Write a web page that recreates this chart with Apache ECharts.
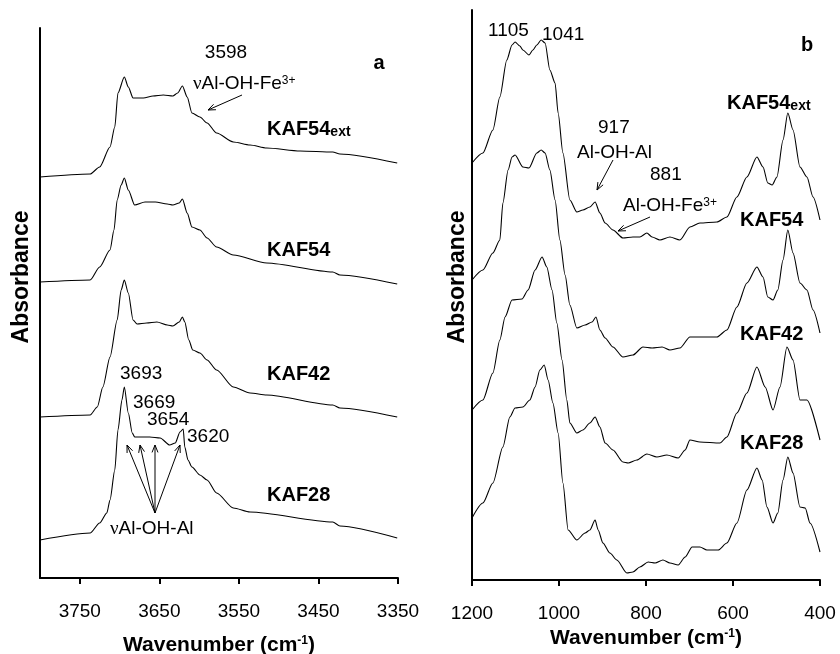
<!DOCTYPE html>
<html><head><meta charset="utf-8">
<script src="https://cdn.jsdelivr.net/npm/echarts@6/dist/echarts.min.js"></script>
<style>html,body{margin:0;padding:0;background:#fff}#c{width:840px;height:654px}</style>
</head><body><div id="c"></div>
<script>
// ---------- Panel a: OH-stretching region (wavenumber, absorbance a.u., offset-stacked) ----------
const aTicks = [3750, 3650, 3550, 3450, 3350];
const a_KAF54ext_wn  = [3800,3737,3725,3712,3706,3702,3694,3689,3683,3670,3658,3645,3633,3627,3621,3615,3609,3599,3590,3578,3557,3536,3515,3473,3432,3423,3351];
const a_KAF54ext_abs = [4.01,4.04,4.11,4.31,4.51,4.85,5.01,4.91,4.80,4.80,4.82,4.83,4.82,4.85,4.92,4.81,4.65,4.61,4.55,4.45,4.36,4.33,4.30,4.27,4.26,4.24,4.15];
const a_KAF54_wn  = [3800,3737,3725,3712,3707,3703,3698,3694,3689,3681,3668,3655,3640,3633,3625,3621,3615,3609,3599,3590,3578,3557,3515,3432,3423,3351];
const a_KAF54_abs = [2.96,2.98,3.11,3.28,3.48,3.78,3.93,4.00,3.88,3.73,3.76,3.76,3.74,3.73,3.75,3.79,3.65,3.51,3.48,3.40,3.31,3.23,3.15,3.06,3.03,2.94];
const a_KAF42_wn  = [3800,3737,3728,3721,3712,3703,3698,3694,3689,3683,3678,3666,3653,3640,3633,3625,3621,3618,3613,3608,3599,3590,3578,3557,3536,3515,3432,3423,3351];
const a_KAF42_abs = [1.61,1.63,1.71,1.91,2.21,2.58,2.88,2.98,2.85,2.58,2.54,2.55,2.56,2.53,2.52,2.56,2.61,2.56,2.38,2.28,2.25,2.18,2.08,1.91,1.85,1.83,1.73,1.70,1.61];
const a_KAF28_wn  = [3800,3737,3725,3716,3712,3706,3702,3697,3694,3689,3684,3681,3662,3649,3637,3630,3624,3620,3618,3614,3609,3599,3590,3578,3557,3536,3432,3423,3351];
const a_KAF28_abs = [0.38,0.45,0.55,0.65,0.78,1.08,1.48,1.78,1.91,1.65,1.45,1.41,1.41,1.40,1.33,1.35,1.46,1.49,1.31,1.18,1.11,1.03,0.98,0.85,0.70,0.66,0.56,0.52,0.40];

// ---------- Panel b: lattice region ----------
const bTicks = [1200, 1000, 800, 600, 400];
const b_KAF54ext_wn  = [1200,1175,1152,1136,1120,1108,1101,1090,1083,1069,1060,1051,1041,1032,1021,1009,1002,991,975,959,945,929,917,906,894,876,853,830,814,798,786,768,745,722,699,676,637,614,591,568,545,531,520,510,499,485,474,462,446,430,416,400];
const b_KAF54ext_abs = [4.17,4.27,4.50,4.83,5.20,5.35,5.38,5.34,5.30,5.25,5.30,5.35,5.40,5.37,5.10,4.97,4.67,4.27,3.80,3.68,3.70,3.73,3.78,3.67,3.57,3.50,3.42,3.43,3.43,3.47,3.43,3.40,3.43,3.40,3.53,3.57,3.58,3.63,3.83,4.03,4.23,4.13,3.97,3.95,4.03,4.40,4.67,4.50,4.13,4.03,3.83,3.60];
const b_KAF54_wn  = [1200,1175,1152,1136,1129,1117,1108,1101,1083,1069,1051,1041,1032,1021,1009,998,986,975,959,940,924,915,906,894,876,853,830,807,786,763,745,722,699,669,637,614,591,568,545,531,520,508,497,485,474,462,446,430,416,400];
const b_KAF54_abs = [3.00,3.10,3.27,3.40,3.77,4.10,4.23,4.25,4.13,4.12,4.27,4.30,4.27,4.10,3.80,3.40,3.05,2.75,2.52,2.55,2.58,2.63,2.50,2.42,2.33,2.23,2.25,2.33,2.32,2.33,2.30,2.32,2.43,2.43,2.43,2.50,2.73,2.97,3.13,3.03,2.83,2.80,2.90,3.20,3.50,3.27,2.97,2.90,2.70,2.47];
const b_KAF42_wn  = [1200,1175,1152,1136,1124,1108,1085,1071,1055,1039,1028,1016,1005,993,982,975,959,945,929,917,906,894,876,853,841,821,798,775,752,726,710,699,676,630,614,591,568,545,526,508,492,476,462,446,430,400];
const b_KAF42_abs = [1.70,1.80,2.07,2.40,2.63,2.80,2.81,2.90,3.10,3.23,3.13,2.90,2.57,2.20,1.80,1.57,1.47,1.50,1.57,1.63,1.53,1.37,1.30,1.18,1.17,1.20,1.26,1.23,1.25,1.22,1.30,1.40,1.38,1.37,1.43,1.67,1.87,2.13,1.93,1.70,1.93,2.33,2.20,1.80,1.80,1.40];
const b_KAF28_wn  = [1200,1175,1152,1129,1113,1101,1083,1067,1055,1044,1034,1025,1014,1002,991,979,959,940,929,917,910,899,883,867,844,830,814,795,779,761,745,726,710,694,676,660,634,614,591,568,545,533,522,508,497,485,474,462,446,434,423,400];
const b_KAF28_abs = [0.62,0.77,0.97,1.33,1.63,1.72,1.73,1.80,1.93,2.10,2.15,2.00,1.77,1.47,0.97,0.50,0.40,0.47,0.50,0.60,0.50,0.37,0.27,0.20,0.07,0.08,0.13,0.18,0.17,0.20,0.17,0.15,0.23,0.33,0.33,0.30,0.30,0.37,0.57,0.90,1.12,1.00,0.73,0.57,0.67,1.00,1.23,1.07,0.73,0.72,0.57,0.28];

const pairs = (xs, ys) => xs.map((x, i) => [x, ys[i]]);
const FONT = 'Liberation Sans, Arial, sans-serif';

const panelA = [
  ['KAF54ext', a_KAF54ext_wn, a_KAF54ext_abs],
  ['KAF54', a_KAF54_wn, a_KAF54_abs],
  ['KAF42', a_KAF42_wn, a_KAF42_abs],
  ['KAF28', a_KAF28_wn, a_KAF28_abs]
];
const panelB = [
  ['KAF54ext', b_KAF54ext_wn, b_KAF54ext_abs],
  ['KAF54', b_KAF54_wn, b_KAF54_abs],
  ['KAF42', b_KAF42_wn, b_KAF42_abs],
  ['KAF28', b_KAF28_wn, b_KAF28_abs]
];

function mkSeries(list, idx) {
  return list.map(([name, xs, ys]) => ({
    name: name + (idx ? ' b' : ' a'), type: 'line', xAxisIndex: idx, yAxisIndex: idx,
    data: pairs(xs, ys), showSymbol: false, symbol: 'none', smooth: 0.25, smoothMonotone: 'x',
    lineStyle: { color: '#000', width: 1.1 }, silent: true
  }));
}

const axisName = {
  fontSize: 21, fontWeight: 'bold', fontFamily: FONT, color: '#000',
  rich: { s: { fontSize: 12, fontWeight: 'bold', fontFamily: FONT, color: '#000', verticalAlign: 'top', lineHeight: 14 } }
};
function xAxisCfg(idx, min, max, ticks, gap) {
  return {
    gridIndex: idx, type: 'value', min: min, max: max, inverse: true,
    name: 'Wavenumber (cm{s|-1})', nameLocation: 'middle', nameGap: gap, nameTextStyle: axisName,
    axisLine: { show: true, onZero: false, lineStyle: { color: '#000', width: 2 } },
    axisTick: { show: true, customValues: ticks, length: 6, inside: false, lineStyle: { color: '#000', width: 2 } },
    axisLabel: { show: true, customValues: ticks, margin: 24, color: '#000', fontSize: 19, fontFamily: FONT,
      formatter: v => String(v) },
    splitLine: { show: false }
  };
}
function yAxisCfg(idx, max) {
  return {
    gridIndex: idx, type: 'value', min: 0, max: max,
    axisLine: { show: true, onZero: false, lineStyle: { color: '#000', width: 2 } },
    axisTick: { show: false }, axisLabel: { show: false }, splitLine: { show: false }
  };
}

function txt(x, y, text, opts) {
  opts = opts || {};
  return {
    type: 'text', x: x, y: y, rotation: opts.rot || 0, silent: true,
    style: Object.assign({
      text: text, fill: '#000', fontSize: opts.size || 19, fontWeight: opts.bold ? 'bold' : 'normal',
      fontFamily: FONT, align: opts.align || 'left', textAlign: opts.align || 'left',
      verticalAlign: 'middle', textVerticalAlign: 'middle'
    }, opts.rich ? { rich: opts.rich } : {})
  };
}
function arrow(x1, y1, x2, y2) {
  const a = Math.atan2(y2 - y1, x2 - x1), L = 8, w = 0.38;
  return [
    { type: 'line', silent: true, shape: { x1, y1, x2, y2 }, style: { stroke: '#000', lineWidth: 1 } },
    { type: 'polyline', silent: true, shape: { points: [[x2 - L * Math.cos(a - w), y2 - L * Math.sin(a - w)], [x2, y2], [x2 - L * Math.cos(a + w), y2 - L * Math.sin(a + w)]] },
      style: { stroke: '#000', lineWidth: 1, fill: null } }
  ];
}

const richAnno = {
  nu: { fontSize: 19, fontFamily: 'Liberation Serif, DejaVu Serif, serif', color: '#000' },
  t: { fontSize: 19, fontFamily: FONT, color: '#000' },
  sup: { fontSize: 12, fontFamily: FONT, color: '#000', verticalAlign: 'top', lineHeight: 12 }
};
const richLabel = {
  k: { fontSize: 20, fontWeight: 'bold', fontFamily: FONT, color: '#000' },
  sub: { fontSize: 14, fontWeight: 'bold', fontFamily: FONT, color: '#000', verticalAlign: 'bottom', lineHeight: 14 }
};

const graphics = [].concat(
  [
    txt(22, 277, 'Absorbance', { bold: true, size: 23, align: 'center', rot: Math.PI / 2 }),
    txt(458, 277, 'Absorbance', { bold: true, size: 23, align: 'center', rot: Math.PI / 2 }),
    // panel a
    txt(226, 53, '3598', { align: 'center' }),
    txt(193, 84, '{nu|ν}{t|Al-OH-Fe}{sup|3+}', { rich: richAnno }),
    txt(379, 63, 'a', { bold: true, size: 20, align: 'center' }),
    txt(267, 129, '{k|KAF54}{sub|ext}', { rich: richLabel }),
    txt(267, 250, 'KAF54', { bold: true, size: 20 }),
    txt(267, 374, 'KAF42', { bold: true, size: 20 }),
    txt(267, 495, 'KAF28', { bold: true, size: 20 }),
    txt(120, 374, '3693'),
    txt(133, 403, '3669'),
    txt(147, 420, '3654'),
    txt(187, 437, '3620'),
    txt(110, 529, '{nu|ν}{t|Al-OH-Al}', { rich: richAnno }),
    // panel b
    txt(488, 31, '1105'),
    txt(542, 35, '1041'),
    txt(807, 45, 'b', { bold: true, size: 20, align: 'center' }),
    txt(727, 103, '{k|KAF54}{sub|ext}', { rich: richLabel }),
    txt(598, 128, '917'),
    txt(577, 153, 'Al-OH-Al'),
    txt(650, 175, '881'),
    txt(623, 206, '{t|Al-OH-Fe}{sup|3+}', { rich: richAnno }),
    txt(740, 220, 'KAF54', { bold: true, size: 20 }),
    txt(740, 334, 'KAF42', { bold: true, size: 20 }),
    txt(740, 443, 'KAF28', { bold: true, size: 20 })
  ],
  arrow(242, 95, 208, 110),
  arrow(155, 513, 127, 445),
  arrow(155, 513, 140, 445),
  arrow(155, 513, 155, 445),
  arrow(155, 513, 180, 445),
  arrow(613, 160, 597, 190),
  arrow(650, 217, 618, 231)
);

const chart = echarts.init(document.getElementById('c'), null, { renderer: 'canvas' });
chart.setOption({
  animation: false,
  backgroundColor: '#fff',
  grid: [
    { left: 40, top: 28, width: 358, height: 550, containLabel: false, outerBoundsMode: 'none' },
    { left: 472, top: 10, width: 348, height: 570, containLabel: false, outerBoundsMode: 'none' }
  ],
  xAxis: [xAxisCfg(0, 3350, 3800, aTicks, 57), xAxisCfg(1, 400, 1200, bTicks, 47)],
  yAxis: [yAxisCfg(0, 5.5), yAxisCfg(1, 5.7)],
  series: mkSeries(panelA, 0).concat(mkSeries(panelB, 1)),
  graphic: { elements: graphics }
});
</script></body></html>
